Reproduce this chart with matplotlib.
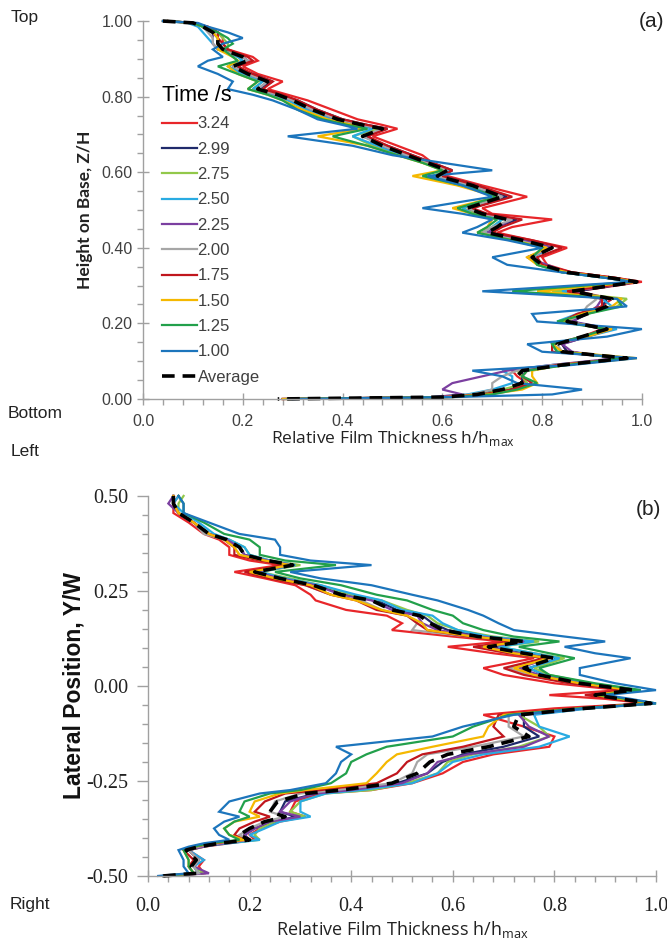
import matplotlib
matplotlib.use("Agg")
import matplotlib.pyplot as plt
from matplotlib.ticker import MultipleLocator, FormatStrFormatter

times = ["3.24", "2.99", "2.75", "2.50", "2.25", "2.00", "1.75", "1.50", "1.25", "1.00"]
colors = ["#e8262a", "#1f2a6b", "#92c84a", "#29abe2", "#7b3fa0",
          "#a6a6a6", "#c0161d", "#f5b800", "#22a04b", "#1c75bc"]

# ---- (a) vertical profile: height Z/H against h/hmax ----
z_a = [1.000, 0.995, 0.985, 0.970, 0.955, 0.940, 0.925,
       0.905, 0.895, 0.880, 0.860, 0.840, 0.820, 0.805,
       0.790, 0.765, 0.740, 0.725, 0.715, 0.695, 0.670,
       0.645, 0.625, 0.605, 0.590, 0.565, 0.535, 0.505,
       0.490, 0.475, 0.455, 0.440, 0.420, 0.400, 0.375,
       0.355, 0.335, 0.320, 0.310, 0.285, 0.265, 0.245,
       0.225, 0.205, 0.185, 0.165, 0.145, 0.125, 0.108,
       0.090, 0.075, 0.060, 0.042, 0.025, 0.012, 0.005, 0.000]

h_a = {
    "3.24": [0.05, 0.10, 0.13, 0.15, 0.16, 0.16, 0.17,
             0.22, 0.23, 0.20, 0.23, 0.28, 0.25, 0.29,
             0.33, 0.38, 0.43, 0.48, 0.51, 0.46, 0.51,
             0.56, 0.58, 0.60, 0.61, 0.68, 0.77, 0.68,
             0.70, 0.82, 0.74, 0.71, 0.78, 0.85, 0.80,
             0.81, 0.86, 0.95, 1.00, 0.87, 0.94, 0.92,
             0.88, 0.85, 0.92, 0.88, 0.84, 0.85, 0.96,
             0.83, 0.74, 0.75, 0.77, 0.73, 0.69, 0.62, 0.28],
    "2.99": [0.04, 0.10, 0.12, 0.14, 0.15, 0.15, 0.16,
             0.20, 0.21, 0.18, 0.22, 0.26, 0.23, 0.27,
             0.31, 0.35, 0.40, 0.45, 0.49, 0.44, 0.49,
             0.54, 0.58, 0.62, 0.60, 0.67, 0.73, 0.66,
             0.68, 0.75, 0.71, 0.69, 0.77, 0.82, 0.77,
             0.80, 0.85, 0.94, 0.99, 0.87, 0.93, 0.92,
             0.89, 0.86, 0.92, 0.89, 0.84, 0.85, 0.96,
             0.84, 0.76, 0.76, 0.76, 0.73, 0.66, 0.60, 0.28],
    "2.75": [0.05, 0.10, 0.12, 0.15, 0.16, 0.17, 0.17,
             0.19, 0.20, 0.17, 0.20, 0.24, 0.22, 0.26,
             0.29, 0.33, 0.38, 0.43, 0.47, 0.42, 0.46,
             0.52, 0.56, 0.61, 0.58, 0.65, 0.72, 0.64,
             0.67, 0.72, 0.70, 0.68, 0.75, 0.81, 0.78,
             0.80, 0.85, 0.94, 0.99, 0.82, 0.97, 0.95,
             0.89, 0.84, 0.94, 0.89, 0.82, 0.84, 0.98,
             0.85, 0.75, 0.76, 0.77, 0.72, 0.68, 0.60, 0.29],
    "2.50": [0.04, 0.09, 0.11, 0.12, 0.13, 0.14, 0.15,
             0.19, 0.20, 0.17, 0.20, 0.24, 0.22, 0.26,
             0.29, 0.33, 0.38, 0.43, 0.46, 0.42, 0.47,
             0.52, 0.57, 0.62, 0.58, 0.65, 0.71, 0.64,
             0.66, 0.72, 0.70, 0.68, 0.75, 0.82, 0.78,
             0.79, 0.84, 0.93, 0.98, 0.84, 0.92, 0.94,
             0.87, 0.83, 0.95, 0.89, 0.82, 0.83, 0.97,
             0.82, 0.72, 0.74, 0.74, 0.70, 0.65, 0.58, 0.30],
    "2.25": [0.04, 0.10, 0.12, 0.14, 0.14, 0.14, 0.15,
             0.20, 0.21, 0.18, 0.21, 0.25, 0.23, 0.27,
             0.30, 0.34, 0.39, 0.44, 0.48, 0.45, 0.48,
             0.53, 0.57, 0.61, 0.59, 0.66, 0.72, 0.65,
             0.68, 0.74, 0.71, 0.69, 0.76, 0.82, 0.77,
             0.81, 0.85, 0.94, 0.99, 0.86, 0.92, 0.91,
             0.89, 0.86, 0.94, 0.89, 0.84, 0.86, 0.95,
             0.82, 0.73, 0.68, 0.62, 0.60, 0.64, 0.58, 0.30],
    "2.00": [0.04, 0.10, 0.12, 0.13, 0.14, 0.14, 0.15,
             0.20, 0.21, 0.18, 0.21, 0.25, 0.23, 0.27,
             0.30, 0.34, 0.39, 0.44, 0.48, 0.44, 0.48,
             0.53, 0.57, 0.61, 0.59, 0.66, 0.72, 0.65,
             0.68, 0.74, 0.70, 0.68, 0.75, 0.81, 0.78,
             0.80, 0.84, 0.94, 0.99, 0.85, 0.91, 0.89,
             0.88, 0.85, 0.93, 0.88, 0.83, 0.84, 0.97,
             0.82, 0.75, 0.72, 0.70, 0.70, 0.66, 0.60, 0.30],
    "1.75": [0.05, 0.10, 0.13, 0.15, 0.15, 0.16, 0.17,
             0.21, 0.22, 0.19, 0.22, 0.26, 0.24, 0.28,
             0.31, 0.35, 0.40, 0.45, 0.49, 0.45, 0.49,
             0.54, 0.58, 0.62, 0.60, 0.67, 0.74, 0.66,
             0.69, 0.76, 0.72, 0.70, 0.78, 0.84, 0.79,
             0.80, 0.86, 0.95, 0.99, 0.85, 0.92, 0.92,
             0.87, 0.84, 0.93, 0.88, 0.82, 0.82, 0.97,
             0.83, 0.77, 0.76, 0.78, 0.74, 0.68, 0.60, 0.28],
    "1.50": [0.04, 0.10, 0.12, 0.14, 0.15, 0.15, 0.15,
             0.18, 0.19, 0.17, 0.19, 0.23, 0.21, 0.25,
             0.28, 0.32, 0.37, 0.42, 0.44, 0.35, 0.45,
             0.51, 0.56, 0.60, 0.54, 0.63, 0.71, 0.62,
             0.66, 0.70, 0.69, 0.67, 0.74, 0.81, 0.77,
             0.79, 0.85, 0.94, 0.99, 0.79, 0.96, 0.94,
             0.88, 0.84, 0.94, 0.89, 0.82, 0.84, 0.99,
             0.84, 0.78, 0.78, 0.79, 0.76, 0.69, 0.61, 0.28],
    "1.25": [0.05, 0.10, 0.12, 0.15, 0.17, 0.18, 0.16,
             0.18, 0.19, 0.15, 0.19, 0.23, 0.21, 0.25,
             0.28, 0.31, 0.36, 0.41, 0.45, 0.38, 0.45,
             0.51, 0.56, 0.60, 0.56, 0.64, 0.71, 0.63,
             0.66, 0.71, 0.69, 0.67, 0.74, 0.80, 0.78,
             0.79, 0.84, 0.93, 0.98, 0.74, 0.95, 0.96,
             0.89, 0.83, 0.93, 0.88, 0.82, 0.83, 0.96,
             0.85, 0.77, 0.76, 0.79, 0.75, 0.70, 0.62, 0.29],
    "1.00": [0.04, 0.11, 0.13, 0.17, 0.20, 0.16, 0.14,
             0.16, 0.13, 0.11, 0.15, 0.18, 0.17, 0.22,
             0.26, 0.31, 0.35, 0.40, 0.43, 0.29, 0.42,
             0.50, 0.60, 0.70, 0.57, 0.64, 0.70, 0.56,
             0.64, 0.70, 0.67, 0.64, 0.73, 0.80, 0.70,
             0.73, 0.84, 0.93, 0.98, 0.68, 0.95, 0.97,
             0.78, 0.79, 1.00, 0.93, 0.77, 0.80, 0.99,
             0.86, 0.66, 0.72, 0.75, 0.88, 0.82, 0.62, 0.30],
}
avg_a = [0.04, 0.10, 0.12, 0.14, 0.15, 0.15, 0.16,
         0.20, 0.21, 0.18, 0.21, 0.25, 0.23, 0.27,
         0.30, 0.34, 0.39, 0.44, 0.48, 0.44, 0.48,
         0.53, 0.57, 0.61, 0.59, 0.66, 0.72, 0.65,
         0.68, 0.73, 0.71, 0.69, 0.76, 0.82, 0.78,
         0.80, 0.85, 0.94, 0.99, 0.86, 0.94, 0.93,
         0.89, 0.85, 0.93, 0.88, 0.83, 0.84, 0.97,
         0.84, 0.76, 0.75, 0.76, 0.72, 0.67, 0.60, 0.27]

# ---- (b) lateral profile: position Y/W against h/hmax ----
y_b = [0.500, 0.480, 0.455, 0.430, 0.400, 0.385, 0.365,
       0.345, 0.330, 0.318, 0.300, 0.283, 0.265, 0.240,
       0.225, 0.200, 0.185, 0.165, 0.147, 0.130, 0.117,
       0.103, 0.086, 0.073, 0.047, 0.029, 0.007, -0.011,
       -0.024, -0.034, -0.046, -0.059, -0.076, -0.107, -0.133,
       -0.160, -0.180, -0.200, -0.230, -0.256, -0.274, -0.283,
       -0.304, -0.331, -0.344, -0.357, -0.375, -0.392, -0.405,
       -0.414, -0.423, -0.432, -0.458, -0.475, -0.493, -0.500]

h_b = {
    "3.24": [0.06, 0.05, 0.05, 0.08, 0.11, 0.14, 0.16,
             0.16, 0.20, 0.26, 0.17, 0.23, 0.29, 0.32,
             0.33, 0.39, 0.47, 0.50, 0.48, 0.60, 0.70,
             0.59, 0.68, 0.76, 0.66, 0.70, 0.80, 0.93,
             0.79, 0.90, 0.98, 0.80, 0.66, 0.74, 0.80,
             0.79, 0.68, 0.62, 0.58, 0.52, 0.44, 0.34,
             0.29, 0.28, 0.31, 0.26, 0.22, 0.20, 0.21,
             0.16, 0.11, 0.08, 0.11, 0.10, 0.11, 0.04],
    "2.99": [0.05, 0.05, 0.06, 0.09, 0.12, 0.155, 0.18,
             0.19, 0.235, 0.29, 0.21, 0.26, 0.33, 0.39,
             0.45, 0.49, 0.54, 0.56, 0.59, 0.66, 0.75,
             0.68, 0.75, 0.81, 0.75, 0.78, 0.86, 0.96,
             0.88, 0.93, 0.99, 0.86, 0.74, 0.74, 0.77,
             0.70, 0.62, 0.58, 0.55, 0.49, 0.40, 0.33,
             0.27, 0.26, 0.29, 0.25, 0.21, 0.19, 0.20,
             0.15, 0.10, 0.08, 0.10, 0.09, 0.10, 0.03],
    "2.75": [0.07, 0.06, 0.06, 0.09, 0.12, 0.16, 0.19,
             0.20, 0.24, 0.30, 0.22, 0.28, 0.34, 0.40,
             0.46, 0.51, 0.55, 0.57, 0.61, 0.68, 0.77,
             0.69, 0.76, 0.82, 0.76, 0.79, 0.87, 0.96,
             0.89, 0.94, 1.00, 0.87, 0.73, 0.77, 0.79,
             0.73, 0.64, 0.59, 0.57, 0.51, 0.44, 0.35,
             0.30, 0.28, 0.31, 0.25, 0.22, 0.21, 0.22,
             0.15, 0.11, 0.08, 0.10, 0.09, 0.11, 0.04],
    "2.50": [0.06, 0.05, 0.07, 0.10, 0.13, 0.16, 0.19,
             0.20, 0.24, 0.29, 0.22, 0.27, 0.34, 0.41,
             0.46, 0.50, 0.56, 0.58, 0.61, 0.67, 0.76,
             0.69, 0.76, 0.81, 0.75, 0.78, 0.87, 0.97,
             0.89, 0.94, 0.99, 0.87, 0.76, 0.77, 0.83,
             0.77, 0.66, 0.60, 0.57, 0.52, 0.42, 0.35,
             0.30, 0.30, 0.32, 0.26, 0.23, 0.20, 0.22,
             0.16, 0.10, 0.08, 0.11, 0.09, 0.10, 0.03],
    "2.25": [0.05, 0.04, 0.06, 0.09, 0.12, 0.155, 0.18,
             0.19, 0.235, 0.285, 0.21, 0.26, 0.33, 0.38,
             0.44, 0.48, 0.53, 0.54, 0.57, 0.65, 0.74,
             0.67, 0.73, 0.79, 0.73, 0.77, 0.85, 0.95,
             0.88, 0.93, 0.99, 0.86, 0.73, 0.75, 0.79,
             0.74, 0.63, 0.57, 0.55, 0.50, 0.40, 0.33,
             0.28, 0.26, 0.30, 0.24, 0.21, 0.19, 0.20,
             0.15, 0.11, 0.08, 0.10, 0.09, 0.12, 0.03],
    "2.00": [0.05, 0.05, 0.06, 0.09, 0.11, 0.15, 0.17,
             0.18, 0.22, 0.28, 0.20, 0.25, 0.31, 0.36,
             0.42, 0.46, 0.51, 0.53, 0.52, 0.63, 0.73,
             0.65, 0.71, 0.78, 0.71, 0.75, 0.83, 0.95,
             0.87, 0.93, 0.99, 0.85, 0.71, 0.71, 0.74,
             0.64, 0.55, 0.53, 0.52, 0.48, 0.37, 0.30,
             0.25, 0.24, 0.27, 0.23, 0.20, 0.18, 0.20,
             0.14, 0.10, 0.08, 0.10, 0.09, 0.10, 0.03],
    "1.75": [0.05, 0.05, 0.06, 0.09, 0.12, 0.15, 0.17,
             0.17, 0.22, 0.27, 0.19, 0.24, 0.31, 0.36,
             0.41, 0.45, 0.51, 0.53, 0.55, 0.63, 0.72,
             0.64, 0.71, 0.78, 0.70, 0.74, 0.83, 0.94,
             0.86, 0.92, 0.98, 0.84, 0.69, 0.68, 0.70,
             0.62, 0.54, 0.51, 0.49, 0.45, 0.34, 0.27,
             0.23, 0.21, 0.24, 0.21, 0.18, 0.17, 0.19,
             0.13, 0.09, 0.07, 0.09, 0.08, 0.09, 0.03],
    "1.50": [0.05, 0.05, 0.06, 0.09, 0.12, 0.15, 0.17,
             0.18, 0.23, 0.28, 0.20, 0.25, 0.32, 0.36,
             0.41, 0.46, 0.51, 0.54, 0.55, 0.64, 0.73,
             0.66, 0.72, 0.79, 0.72, 0.76, 0.85, 0.95,
             0.88, 0.93, 0.99, 0.85, 0.70, 0.67, 0.66,
             0.56, 0.49, 0.47, 0.45, 0.43, 0.31, 0.26,
             0.21, 0.20, 0.22, 0.17, 0.15, 0.16, 0.19,
             0.12, 0.09, 0.07, 0.08, 0.08, 0.09, 0.03],
    "1.25": [0.06, 0.07, 0.07, 0.11, 0.15, 0.20, 0.22,
             0.22, 0.27, 0.37, 0.25, 0.30, 0.38, 0.45,
             0.51, 0.56, 0.60, 0.62, 0.66, 0.72, 0.81,
             0.73, 0.79, 0.84, 0.77, 0.79, 0.88, 0.97,
             0.89, 0.94, 1.00, 0.85, 0.71, 0.64, 0.60,
             0.47, 0.43, 0.40, 0.39, 0.36, 0.30, 0.24,
             0.19, 0.18, 0.20, 0.17, 0.15, 0.16, 0.18,
             0.12, 0.09, 0.07, 0.08, 0.08, 0.09, 0.03],
    "1.00": [0.06, 0.07, 0.07, 0.12, 0.18, 0.25, 0.26,
             0.26, 0.32, 0.44, 0.28, 0.34, 0.44, 0.52,
             0.57, 0.63, 0.66, 0.69, 0.72, 0.82, 0.90,
             0.82, 0.88, 0.95, 0.85, 0.85, 0.92, 1.00,
             0.90, 0.95, 1.00, 0.86, 0.72, 0.62, 0.56,
             0.37, 0.40, 0.38, 0.37, 0.35, 0.28, 0.22,
             0.16, 0.14, 0.18, 0.15, 0.13, 0.14, 0.16,
             0.11, 0.08, 0.06, 0.07, 0.07, 0.08, 0.02],
}
avg_b = [0.05, 0.05, 0.06, 0.09, 0.12, 0.155, 0.18,
         0.19, 0.235, 0.285, 0.21, 0.26, 0.325, 0.38,
         0.44, 0.48, 0.535, 0.555, 0.58, 0.65, 0.74,
         0.67, 0.74, 0.80, 0.74, 0.77, 0.85, 0.955,
         0.88, 0.93, 0.99, 0.86, 0.73, 0.72, 0.75,
         0.67, 0.59, 0.555, 0.53, 0.48, 0.38, 0.31,
         0.255, 0.24, 0.27, 0.23, 0.20, 0.18, 0.20,
         0.14, 0.10, 0.075, 0.095, 0.085, 0.095, 0.03]

GREY = "#404040"
AXCOL = "#a0a0a0"

fig = plt.figure(figsize=(6.67, 9.43), dpi=100)


def draw_profiles(ax, pos, series, avg):
    for t, c in zip(times, colors):
        ax.plot(series[t], pos, color=c, lw=1.6, label=t, clip_on=False,
                solid_joinstyle="miter")
    ax.plot(avg, pos, color="black", lw=2.6, dashes=(3.5, 2.2),
            label="Average", clip_on=False)


def style_axes(ax):
    for s in ("top", "right"):
        ax.spines[s].set_visible(False)
    for s in ("left", "bottom"):
        ax.spines[s].set_color(AXCOL)
        ax.spines[s].set_linewidth(1.0)
    ax.tick_params(which="major", direction="inout", length=8, color=AXCOL, width=1.0)
    ax.tick_params(which="minor", direction="out", length=4, color=AXCOL, width=1.0)
    ax.set_xlim(0, 1)
    ax.xaxis.set_major_locator(MultipleLocator(0.2))
    ax.xaxis.set_minor_locator(MultipleLocator(0.04))
    ax.xaxis.set_major_formatter(FormatStrFormatter("%.1f"))


XLABEL = "Relative Film Thickness h/h$_{\\mathregular{max}}$"

# panel (a)
ax_a = fig.add_axes([0.2144, 0.5769, 0.748, 0.4008])
draw_profiles(ax_a, z_a, h_a, avg_a)
style_axes(ax_a)
ax_a.set_ylim(0, 1)
ax_a.yaxis.set_major_locator(MultipleLocator(0.2))
ax_a.yaxis.set_minor_locator(MultipleLocator(0.05))
ax_a.yaxis.set_major_formatter(FormatStrFormatter("%.2f"))
for lab in ax_a.get_xticklabels() + ax_a.get_yticklabels():
    lab.set_family("Liberation Sans")
    lab.set_fontsize(11.5)
    lab.set_color(GREY)
ax_a.tick_params(axis="x", pad=7)
ax_a.set_xlabel(XLABEL, family="Open Sans", fontsize=12.5, color="#222222", labelpad=0)
ax_a.set_ylabel("Height on Base, Z/H", family="Lato", fontweight="bold",
                fontsize=12.5, color="#222222", labelpad=6)
leg = ax_a.legend(loc="upper left", bbox_to_anchor=(0.024, 0.848), frameon=False,
                  title="Time /s", title_fontsize=15.5,
                  handlelength=2.1, handletextpad=0.05, labelspacing=0.62,
                  borderaxespad=0, prop={"family": "Liberation Sans", "size": 12})
leg._legend_box.align = "left"
leg.get_title().set_family("Liberation Sans")
for txt in leg.get_texts():
    txt.set_color(GREY)
ax_a.text(1.02, 1.0, "(a)", transform=ax_a.transAxes, ha="center", va="center",
          fontsize=15, family="Liberation Sans", color="#222222")

# panel (b)
ax_b = fig.add_axes([0.2219, 0.0711, 0.7616, 0.403])
draw_profiles(ax_b, y_b, h_b, avg_b)
style_axes(ax_b)
ax_b.set_ylim(-0.5, 0.5)
ax_b.yaxis.set_major_locator(MultipleLocator(0.25))
ax_b.yaxis.set_minor_locator(MultipleLocator(0.05))
ax_b.yaxis.set_major_formatter(FormatStrFormatter("%.2f"))
ax_b.tick_params(axis="y", which="major", direction="out", length=8)
for lab in ax_b.get_xticklabels() + ax_b.get_yticklabels():
    lab.set_family("Liberation Serif")
    lab.set_fontsize(14.5)
    lab.set_color("#222222")
ax_b.tick_params(axis="x", pad=11)
ax_b.tick_params(axis="y", pad=6)
ax_b.set_xlabel(XLABEL, family="Open Sans", fontsize=13, color="#222222", labelpad=2)
ax_b.set_ylabel("Lateral Position, Y/W", family="Liberation Sans", fontweight="bold",
                fontsize=16.5, color="#111111", labelpad=1)
ax_b.text(0.985, 0.965, "(b)", transform=ax_b.transAxes, ha="center", va="center",
          fontsize=15, family="Liberation Sans", color="#222222")

# orientation markers
for s, x, y in [("Top", 0.037, 0.981), ("Bottom", 0.052, 0.561),
                ("Left", 0.037, 0.521), ("Right", 0.045, 0.041)]:
    fig.text(x, y, s, ha="center", va="center", fontsize=12.5,
             family="Liberation Sans", color="#222222")

fig.savefig("out.png", dpi=100)
